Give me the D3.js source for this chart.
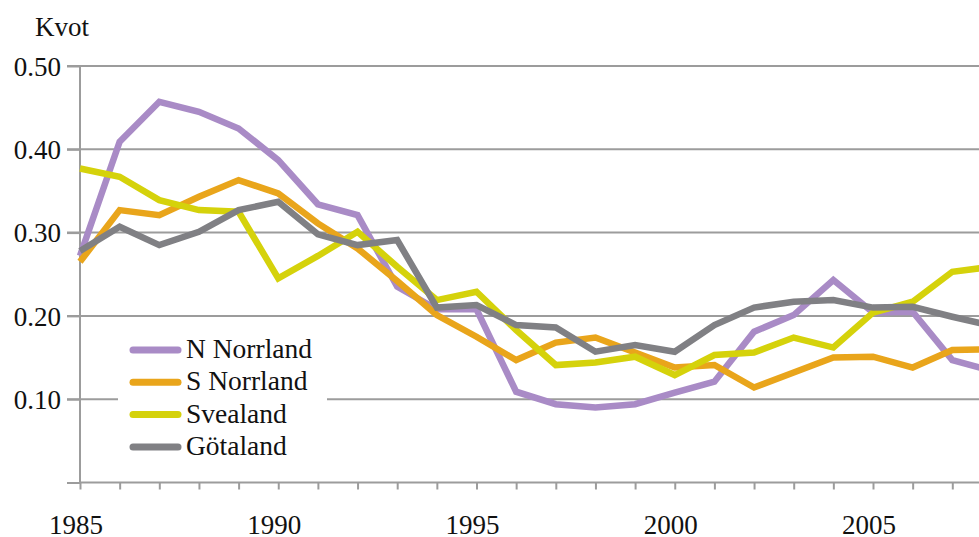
<!DOCTYPE html>
<html>
<head>
<meta charset="utf-8">
<script src="https://cdn.jsdelivr.net/npm/d3@7"></script>
</head>
<body style="margin:0">
<svg width="979" height="537"></svg>
<script>
// years shown on the x axis (2008 runs off the right edge)
const years = d3.range(1985, 2009);
const yTicks = [0, 0.1, 0.2, 0.3, 0.4, 0.5];
const xTickLabels = [1985, 1990, 1995, 2000, 2005];

const nNorrland = [0.272, 0.409, 0.457, 0.445, 0.425, 0.387, 0.334, 0.321, 0.235, 0.208, 0.208, 0.109, 0.094, 0.090, 0.094, 0.108,
  0.121, 0.181, 0.201, 0.243, 0.204, 0.205, 0.147, 0.134];
const sNorrland = [0.265, 0.327, 0.321, 0.343, 0.363, 0.347, 0.311, 0.281, 0.242, 0.201, 0.175, 0.147, 0.168, 0.174, 0.156, 0.138,
  0.141, 0.114, 0.132, 0.150, 0.151, 0.138, 0.159, 0.160];
const svealand = [0.377, 0.367, 0.339, 0.327, 0.325, 0.245, 0.272, 0.301, 0.259, 0.219, 0.229, 0.183, 0.141, 0.144, 0.151, 0.129,
  0.153, 0.156, 0.174, 0.162, 0.204, 0.217, 0.253, 0.259];
const gotaland = [0.278, 0.307, 0.285, 0.301, 0.327, 0.337, 0.298, 0.285, 0.291, 0.210, 0.213, 0.189, 0.186, 0.157, 0.165, 0.157,
  0.189, 0.210, 0.217, 0.219, 0.210, 0.211, 0.199, 0.188];

const seriesNames = ['N Norrland', 'S Norrland', 'Svealand', 'Götaland'];
const seriesColors = ['#a98bc6', '#e9a51b', '#d5d20b', '#808084'];
const seriesValues = [nNorrland, sNorrland, svealand, gotaland];

const width = 979, height = 537;
const margin = { top: 66, left: 80, bottom: 54 };
const svg = d3.select('svg');

const x = d3.scaleLinear().domain([1985, 2008]).range([margin.left, margin.left + 39.65 * 23]);
const y = d3.scaleLinear().domain([0, 0.5]).range([height - margin.bottom - 0.5, margin.top]);
const gridColor = '#9c9c9c';

// serif text, set on each text node
function serif(sel, size) {
  sel.style('font-family', '"Liberation Serif"')
    .style('font-size', size + 'px')
    .attr('fill', '#111');
}

// gridlines
svg.append('g')
  .selectAll('line')
  .data(yTicks.filter(d => d > 0))
  .join('line')
  .attr('x1', margin.left - 13).attr('x2', width)
  .attr('y1', d => y(d)).attr('y2', d => y(d))
  .attr('stroke', gridColor).attr('stroke-width', 2);

// y axis
const yAxis = d3.axisLeft(y).tickValues(yTicks).tickSize(13).tickPadding(6).tickFormat(d3.format('.2f'));
svg.append('g')
  .attr('transform', `translate(${margin.left},0)`)
  .call(yAxis)
  .call(g => g.selectAll('.tick text').filter(d => d === 0).remove())
  .call(g => g.select('.domain').attr('d', `M0,${y(0)}V${y(0.5)}`))
  .call(g => g.selectAll('line, .domain').attr('stroke', gridColor).attr('stroke-width', 2))
  .call(g => g.selectAll('text').call(serif, 27).attr('dy', '0.34em'));

// x axis
const xAxis = d3.axisBottom(x).tickValues(years).tickSize(7).tickFormat('');
svg.append('g')
  .attr('transform', `translate(0,${y(0)})`)
  .call(xAxis)
  .call(g => g.select('.domain').attr('d', `M${margin.left},0H${width}`))
  .call(g => g.selectAll('line, .domain').attr('stroke', gridColor).attr('stroke-width', 2));

svg.append('g')
  .selectAll('text')
  .data(xTickLabels)
  .join('text')
  .attr('x', d => x(d) - 4).attr('y', 534)
  .attr('text-anchor', 'middle')
  .call(serif, 27)
  .text(d => d);

// axis title
svg.append('text').attr('x', 35).attr('y', 36).call(serif, 27).text('Kvot');

// legend background hides the gridline behind it
const legend = svg.append('g');
legend.append('rect').attr('x', 118).attr('y', 330).attr('width', 209).attr('height', 135).attr('fill', '#fff');

// lines
const line = d3.line().x((d, i) => x(years[i])).y(d => y(d));
svg.append('g')
  .selectAll('path')
  .data(seriesValues)
  .join('path')
  .attr('d', line)
  .attr('fill', 'none')
  .attr('stroke', (d, i) => seriesColors[i])
  .attr('stroke-width', 6.5);

const rows = legend.selectAll('g.row')
  .data(seriesNames)
  .join('g')
  .attr('transform', (d, i) => `translate(0,${350 + i * 32.3})`);
rows.append('line').attr('x1', 133).attr('x2', 178)
  .attr('stroke', (d, i) => seriesColors[i]).attr('stroke-width', 7).attr('stroke-linecap', 'round');
rows.append('text').attr('x', 186).attr('y', 8).call(serif, 27.5).text(d => d);
</script>
</body>
</html>
